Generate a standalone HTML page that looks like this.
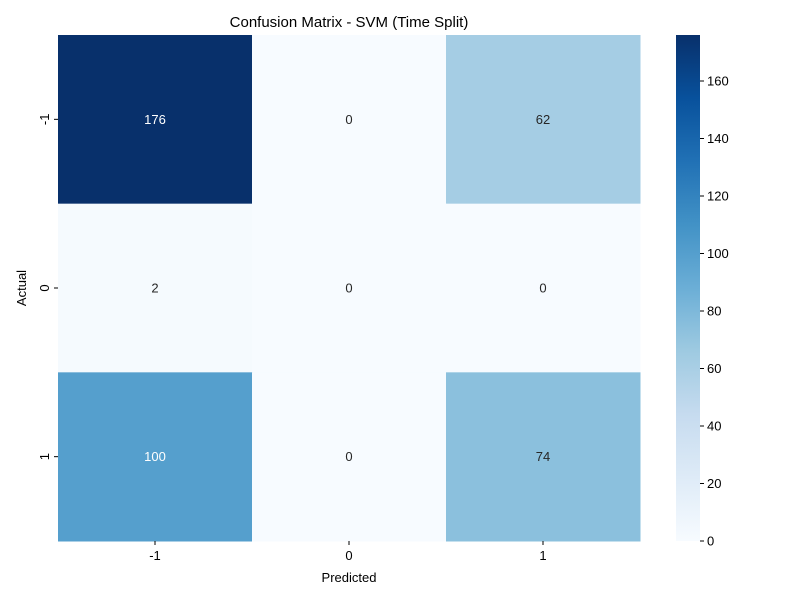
<!DOCTYPE html>
<html><head><meta charset="utf-8"><style>
body{margin:0;background:#fff}
svg{font-family:"Liberation Sans","DejaVu Sans",sans-serif}
</style></head><body>
<svg id="chart" width="800" height="600" viewBox="0 0 800 600">
<rect width="800" height="600" fill="#fff"/>
<text x="349" y="27" text-anchor="middle" font-size="15">Confusion Matrix - SVM (Time Split)</text>
<g id="cells"></g>
<g id="axes"></g>
<defs><linearGradient id="cbg" x1="0" y1="1" x2="0" y2="0">
<stop offset="0" stop-color="#f7fbff"/><stop offset="0.125" stop-color="#deebf7"/><stop offset="0.25" stop-color="#c6dbef"/><stop offset="0.375" stop-color="#9ecae1"/><stop offset="0.5" stop-color="#6baed6"/><stop offset="0.625" stop-color="#4292c6"/><stop offset="0.75" stop-color="#2171b5"/><stop offset="0.875" stop-color="#08519c"/><stop offset="1" stop-color="#08306b"/>
</linearGradient></defs>
<rect x="676" y="35" width="24" height="506" fill="url(#cbg)"/>
<g id="cbticks"></g>
<text x="349" y="582" text-anchor="middle" font-size="13">Predicted</text>
<text x="0" y="0" transform="translate(26,288) rotate(-90)" text-anchor="middle" font-size="13">Actual</text>
</svg>
<script>
const labels = ["-1","0","1"];
const matrix = [[176,0,62],[2,0,0],[100,0,74]];
const cbTicks = [0,20,40,60,80,100,120,140,160];
const vmin = 0, vmax = 176;
const NS="http://www.w3.org/2000/svg";
const X0=58,X1=640,Y0=35,Y1=541;
const cw=(X1-X0)/labels.length, ch=(Y1-Y0)/labels.length;
const stops=["#f7fbff","#deebf7","#c6dbef","#9ecae1","#6baed6","#4292c6","#2171b5","#08519c","#08306b"].map(h=>[1,3,5].map(i=>parseInt(h.substr(i,2),16)));
function lin(c){c/=255;return c<=0.03928?c/12.92:Math.pow((c+0.055)/1.055,2.4);}
function color(v){let t=(v-vmin)/(vmax-vmin)*(stops.length-1);let i=Math.min(Math.floor(t),stops.length-2);let f=t-i;
const c=stops[i].map((a,k)=>Math.round(a+(stops[i+1][k]-a)*f));return {s:`rgb(${c.join(',')})`,l:0.2126*lin(c[0])+0.7152*lin(c[1])+0.0722*lin(c[2])};}
function el(tag,attrs,parent,txt){const e=document.createElementNS(NS,tag);for(const k in attrs)e.setAttribute(k,attrs[k]);if(txt!==undefined)e.textContent=txt;parent.appendChild(e);return e;}
const cells=document.getElementById('cells'),axes=document.getElementById('axes'),cb=document.getElementById('cbticks');
matrix.forEach((row,r)=>row.forEach((v,c)=>{
 const col=color(v);
 const rc=el('rect',{x:X0+c*cw,y:Y0+r*ch,width:cw+0.5,height:ch+0.5,fill:col.s},cells);
 
 
 const t=el('text',{x:X0+(c+.5)*cw,y:Y0+(r+.5)*ch+4.5,'text-anchor':'middle','font-size':13,fill:col.l<0.408?'#fff':'#262626'},cells,String(v));
 
 
}));
labels.forEach((lb,i)=>{
 const x=X0+(i+.5)*cw;
 el('line',{x1:x,x2:x,y1:Y1,y2:Y1+4,stroke:'#000'},axes);
 const t=el('text',{x:x,y:Y1+19,'text-anchor':'middle','font-size':13},axes,lb);
 
 
 const y=Y0+(i+.5)*ch;
 el('line',{x1:X0-4,x2:X0,y1:y,y2:y,stroke:'#000'},axes);
 const u=el('text',{x:0,y:0,transform:`translate(${X0-9},${y}) rotate(-90)`,'text-anchor':'middle','font-size':13},axes,lb);
 
 
});
cbTicks.forEach(v=>{
 const y=Y1-(v-vmin)/(vmax-vmin)*(Y1-Y0);
 el('line',{x1:700,x2:704,y1:y,y2:y,stroke:'#000'},cb);
 const t=el('text',{x:707,y:y+4.5,'font-size':13},cb,String(v));
 
 
});
</script>
</body></html>
